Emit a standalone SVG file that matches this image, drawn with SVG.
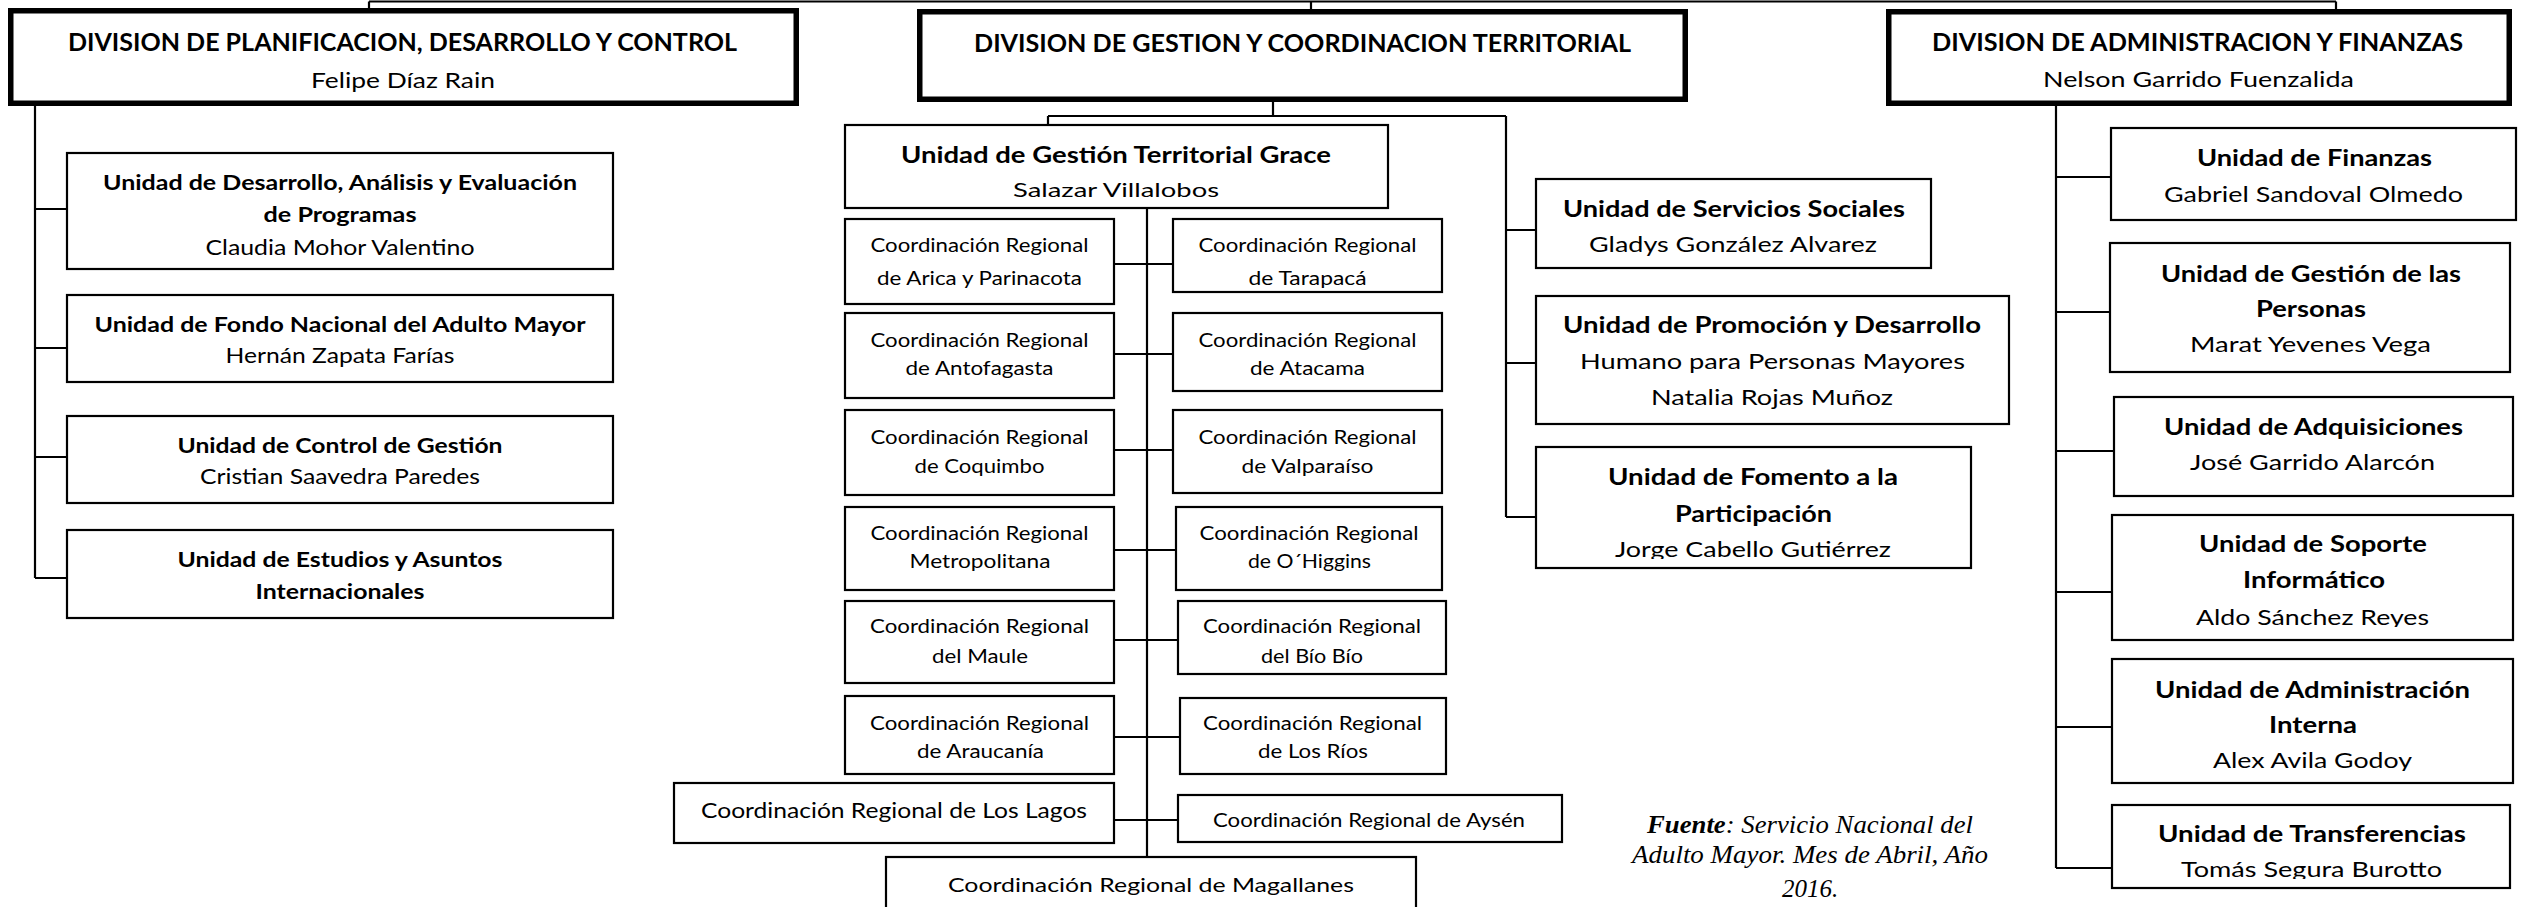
<svg xmlns="http://www.w3.org/2000/svg" width="2526" height="907" viewBox="0 0 2526 907">
  <style>
    .bg { fill: #ffffff; }
    .div { fill: #ffffff; stroke: #000; stroke-width: 5.5; }
    .box { fill: #ffffff; stroke: #000; stroke-width: 2.2; }
    .ln { fill: none; stroke: #000; stroke-width: 2.2; }
    text { font-family: Lato, "Open Sans", "Liberation Sans", sans-serif; fill: #000; text-anchor: middle; }
    .h { font-weight: bold; font-size: 24px; }
    .n { font-size: 22px; }
    .u { font-weight: bold; font-size: 21px; }
    .un { font-size: 21px; }
    .r { font-weight: bold; font-size: 22.5px; }
    .rn { font-size: 22px; }
    .c { font-size: 19.5px; }
    .src { font-family: "Liberation Serif", "Times New Roman", serif; font-style: italic; font-size: 25px; }
  </style>
  <defs>
    <clipPath id="cut-tarapaca" clipPathUnits="userSpaceOnUse"><rect x="0" y="0" width="2526" height="289"/></clipPath>
    <clipPath id="cut-salazar" clipPathUnits="userSpaceOnUse"><rect x="0" y="0" width="2526" height="199"/></clipPath>
    <clipPath id="cut-fomento" clipPathUnits="userSpaceOnUse"><rect x="0" y="0" width="2526" height="559"/></clipPath>
    <clipPath id="cut-soporte" clipPathUnits="userSpaceOnUse"><rect x="0" y="0" width="2526" height="627"/></clipPath>
    <clipPath id="cut-interna" clipPathUnits="userSpaceOnUse"><rect x="0" y="0" width="2526" height="771"/></clipPath>
    <clipPath id="cut-transf" clipPathUnits="userSpaceOnUse"><rect x="0" y="0" width="2526" height="879"/></clipPath>
    <clipPath id="cut-aysen" clipPathUnits="userSpaceOnUse"><rect x="0" y="0" width="2526" height="830"/></clipPath>
  </defs>

  <rect class="bg" x="0" y="0" width="2526" height="907"/>

  <!-- connectors -->
  <g id="connectors">
    <!-- top bar joining the three divisions -->
    <path class="ln" d="M369 1.5 H2336 M369 1.5 V9 M1311 1.5 V10 M2336 1.5 V10"/>
    <!-- division 1 spine -->
    <path class="ln" d="M35 106 V578 M35 209 H67 M35 348 H67 M35 457 H67 M35 578 H67"/>
    <!-- division 2 -->
    <path class="ln" d="M1273 102 V116 M1048 116 H1506 M1048 116 V125 M1506 116 V517 M1506 230 H1536 M1506 363 H1536 M1506 517 H1536"/>
    <!-- regional spine -->
    <path class="ln" d="M1147 208 V857 M1114 264 H1173 M1114 354 H1173 M1114 450 H1176 M1114 550 H1176 M1114 640 H1178 M1114 737 H1180 M1114 820 H1178"/>
    <!-- division 3 spine -->
    <path class="ln" d="M2056 106 V868 M2056 177 H2111 M2056 312 H2110 M2056 451 H2114 M2056 592 H2112 M2056 727 H2112 M2056 868 H2112"/>
  </g>

  <!-- Division de Planificacion -->
  <g id="div-planificacion">
    <rect class="div" x="10.75" y="10.75" width="785.5" height="92.5"/>
    <text class="h" x="402.5" y="50.5" textLength="669" lengthAdjust="spacingAndGlyphs">DIVISION DE PLANIFICACION, DESARROLLO Y CONTROL</text>
    <text class="n" x="403" y="88" textLength="184" lengthAdjust="spacingAndGlyphs">Felipe Díaz Rain</text>
  </g>
  <g id="u-desarrollo">
    <rect class="box" x="67" y="153" width="546" height="116"/>
    <text class="u" x="340" y="190" textLength="474" lengthAdjust="spacingAndGlyphs">Unidad de Desarrollo, Análisis y Evaluación</text>
    <text class="u" x="340" y="222" textLength="153" lengthAdjust="spacingAndGlyphs">de Programas</text>
    <text class="un" x="340" y="255" textLength="269" lengthAdjust="spacingAndGlyphs">Claudia Mohor Valentino</text>
  </g>
  <g id="u-fondo">
    <rect class="box" x="67" y="295" width="546" height="87"/>
    <text class="u" x="340" y="332" textLength="491" lengthAdjust="spacingAndGlyphs">Unidad de Fondo Nacional del Adulto Mayor</text>
    <text class="un" x="340" y="363" textLength="229" lengthAdjust="spacingAndGlyphs">Hernán Zapata Farías</text>
  </g>
  <g id="u-control">
    <rect class="box" x="67" y="416" width="546" height="87"/>
    <text class="u" x="340" y="453" textLength="325" lengthAdjust="spacingAndGlyphs">Unidad de Control de Gestión</text>
    <text class="un" x="340" y="484" textLength="280" lengthAdjust="spacingAndGlyphs">Cristian Saavedra Paredes</text>
  </g>
  <g id="u-estudios">
    <rect class="box" x="67" y="530" width="546" height="88"/>
    <text class="u" x="340" y="567" textLength="325" lengthAdjust="spacingAndGlyphs">Unidad de Estudios y Asuntos</text>
    <text class="u" x="340" y="599" textLength="169" lengthAdjust="spacingAndGlyphs">Internacionales</text>
  </g>

  <!-- Division de Gestion y Coordinacion Territorial -->
  <g id="div-gestion">
    <rect class="div" x="919.75" y="11.75" width="765.5" height="87.5"/>
    <text class="h" x="1302.5" y="52" textLength="657" lengthAdjust="spacingAndGlyphs">DIVISION DE GESTION Y COORDINACION TERRITORIAL</text>
  </g>
  <g id="u-territorial">
    <rect class="box" x="845" y="125" width="543" height="83"/>
    <text class="u" style="font-size:23px" x="1116" y="163" textLength="430" lengthAdjust="spacingAndGlyphs">Unidad de Gestión Territorial Grace</text>
    <text class="un" style="font-size:20px" x="1116" y="197" textLength="206" lengthAdjust="spacingAndGlyphs" clip-path="url(#cut-salazar)">Salazar Villalobos</text>
  </g>

  <g id="cr-arica">
    <rect class="box" x="845" y="219" width="269" height="85"/>
    <text class="c" x="979.5" y="252" textLength="218" lengthAdjust="spacingAndGlyphs">Coordinación Regional</text>
    <text class="c" x="979.5" y="285" textLength="205" lengthAdjust="spacingAndGlyphs">de Arica y Parinacota</text>
  </g>
  <g id="cr-tarapaca">
    <rect class="box" x="1173" y="219" width="269" height="73"/>
    <text class="c" x="1307.5" y="252" textLength="218" lengthAdjust="spacingAndGlyphs">Coordinación Regional</text>
    <text class="c" x="1307.5" y="285" textLength="118" lengthAdjust="spacingAndGlyphs" clip-path="url(#cut-tarapaca)">de Tarapacá</text>
  </g>
  <g id="cr-antofagasta">
    <rect class="box" x="845" y="313" width="269" height="85"/>
    <text class="c" x="979.5" y="347" textLength="218" lengthAdjust="spacingAndGlyphs">Coordinación Regional</text>
    <text class="c" x="979.5" y="375" textLength="148" lengthAdjust="spacingAndGlyphs">de Antofagasta</text>
  </g>
  <g id="cr-atacama">
    <rect class="box" x="1173" y="313" width="269" height="78"/>
    <text class="c" x="1307.5" y="347" textLength="218" lengthAdjust="spacingAndGlyphs">Coordinación Regional</text>
    <text class="c" x="1307.5" y="375" textLength="115" lengthAdjust="spacingAndGlyphs">de Atacama</text>
  </g>
  <g id="cr-coquimbo">
    <rect class="box" x="845" y="410" width="269" height="85"/>
    <text class="c" x="979.5" y="444" textLength="218" lengthAdjust="spacingAndGlyphs">Coordinación Regional</text>
    <text class="c" x="979.5" y="473" textLength="130" lengthAdjust="spacingAndGlyphs">de Coquimbo</text>
  </g>
  <g id="cr-valparaiso">
    <rect class="box" x="1173" y="410" width="269" height="83"/>
    <text class="c" x="1307.5" y="444" textLength="218" lengthAdjust="spacingAndGlyphs">Coordinación Regional</text>
    <text class="c" x="1307.5" y="473" textLength="132" lengthAdjust="spacingAndGlyphs">de Valparaíso</text>
  </g>
  <g id="cr-metropolitana">
    <rect class="box" x="845" y="507" width="269" height="83"/>
    <text class="c" x="979.5" y="540" textLength="218" lengthAdjust="spacingAndGlyphs">Coordinación Regional</text>
    <text class="c" x="980" y="568" textLength="141" lengthAdjust="spacingAndGlyphs">Metropolitana</text>
  </g>
  <g id="cr-ohiggins">
    <rect class="box" x="1176" y="507" width="266" height="83"/>
    <text class="c" x="1309" y="540" textLength="219" lengthAdjust="spacingAndGlyphs">Coordinación Regional</text>
    <text class="c" x="1309.5" y="568" textLength="123" lengthAdjust="spacingAndGlyphs">de O´Higgins</text>
  </g>
  <g id="cr-maule">
    <rect class="box" x="845" y="601" width="269" height="82"/>
    <text class="c" x="979.5" y="633" textLength="219" lengthAdjust="spacingAndGlyphs">Coordinación Regional</text>
    <text class="c" x="980" y="663" textLength="96" lengthAdjust="spacingAndGlyphs">del Maule</text>
  </g>
  <g id="cr-biobio">
    <rect class="box" x="1178" y="601" width="268" height="73"/>
    <text class="c" x="1312" y="633" textLength="218" lengthAdjust="spacingAndGlyphs">Coordinación Regional</text>
    <text class="c" x="1312" y="663" textLength="102" lengthAdjust="spacingAndGlyphs">del Bío Bío</text>
  </g>
  <g id="cr-araucania">
    <rect class="box" x="845" y="696" width="269" height="78"/>
    <text class="c" x="979.5" y="730" textLength="219" lengthAdjust="spacingAndGlyphs">Coordinación Regional</text>
    <text class="c" x="980.5" y="758" textLength="127" lengthAdjust="spacingAndGlyphs">de Araucanía</text>
  </g>
  <g id="cr-losrios">
    <rect class="box" x="1180" y="698" width="266" height="76"/>
    <text class="c" x="1312.5" y="730" textLength="219" lengthAdjust="spacingAndGlyphs">Coordinación Regional</text>
    <text class="c" x="1313" y="758" textLength="110" lengthAdjust="spacingAndGlyphs">de Los Ríos</text>
  </g>
  <g id="cr-loslagos">
    <rect class="box" x="674" y="783" width="440" height="60"/>
    <text class="c" style="font-size:21px" x="894" y="818" textLength="386" lengthAdjust="spacingAndGlyphs">Coordinación Regional de Los Lagos</text>
  </g>
  <g id="cr-aysen">
    <rect class="box" x="1178" y="795" width="384" height="47"/>
    <text class="c" style="font-size:19px" x="1369" y="827" textLength="312" lengthAdjust="spacingAndGlyphs" clip-path="url(#cut-aysen)">Coordinación Regional de Aysén</text>
  </g>
  <g id="cr-magallanes">
    <rect class="box" x="886" y="857" width="530" height="60"/>
    <text class="c" style="font-size:20px" x="1151" y="892" textLength="406" lengthAdjust="spacingAndGlyphs">Coordinación Regional de Magallanes</text>
  </g>

  <g id="u-servicios">
    <rect class="box" x="1536" y="179" width="395" height="89"/>
    <text class="r" x="1734" y="217" textLength="342" lengthAdjust="spacingAndGlyphs">Unidad de Servicios Sociales</text>
    <text class="rn" x="1733" y="252" textLength="288" lengthAdjust="spacingAndGlyphs">Gladys González Alvarez</text>
  </g>
  <g id="u-promocion">
    <rect class="box" x="1536" y="296" width="473" height="128"/>
    <text class="r" x="1772" y="333" textLength="418" lengthAdjust="spacingAndGlyphs">Unidad de Promoción y Desarrollo</text>
    <text class="rn" x="1772.5" y="369" textLength="385" lengthAdjust="spacingAndGlyphs">Humano para Personas Mayores</text>
    <text class="rn" x="1772" y="405" textLength="242" lengthAdjust="spacingAndGlyphs">Natalia Rojas Muñoz</text>
  </g>
  <g id="u-fomento">
    <rect class="box" x="1536" y="447" width="435" height="121"/>
    <text class="r" x="1753" y="485" textLength="290" lengthAdjust="spacingAndGlyphs">Unidad de Fomento a la</text>
    <text class="r" x="1753.5" y="522" textLength="157" lengthAdjust="spacingAndGlyphs">Participación</text>
    <text class="rn" x="1753" y="557" textLength="276" lengthAdjust="spacingAndGlyphs" clip-path="url(#cut-fomento)">Jorge Cabello Gutiérrez</text>
  </g>

  <!-- Division de Administracion y Finanzas -->
  <g id="div-administracion">
    <rect class="div" x="1888.75" y="11.75" width="620.5" height="91.5"/>
    <text class="h" x="2197.5" y="51" textLength="531" lengthAdjust="spacingAndGlyphs">DIVISION DE ADMINISTRACION Y FINANZAS</text>
    <text class="n" x="2198.5" y="87" textLength="311" lengthAdjust="spacingAndGlyphs">Nelson Garrido Fuenzalida</text>
  </g>
  <g id="u-finanzas">
    <rect class="box" x="2111" y="128" width="405" height="92"/>
    <text class="r" x="2314.5" y="166" textLength="235" lengthAdjust="spacingAndGlyphs">Unidad de Finanzas</text>
    <text class="rn" x="2313.5" y="202" textLength="299" lengthAdjust="spacingAndGlyphs">Gabriel Sandoval Olmedo</text>
  </g>
  <g id="u-personas">
    <rect class="box" x="2110" y="243" width="400" height="129"/>
    <text class="r" x="2311" y="282" textLength="300" lengthAdjust="spacingAndGlyphs">Unidad de Gestión de las</text>
    <text class="r" x="2311" y="317" textLength="110" lengthAdjust="spacingAndGlyphs">Personas</text>
    <text class="rn" x="2310.5" y="352" textLength="241" lengthAdjust="spacingAndGlyphs">Marat Yevenes Vega</text>
  </g>
  <g id="u-adquisiciones">
    <rect class="box" x="2114" y="397" width="399" height="99"/>
    <text class="r" x="2313.5" y="435" textLength="299" lengthAdjust="spacingAndGlyphs">Unidad de Adquisiciones</text>
    <text class="rn" x="2312.5" y="470" textLength="245" lengthAdjust="spacingAndGlyphs">José Garrido Alarcón</text>
  </g>
  <g id="u-soporte">
    <rect class="box" x="2112" y="515" width="401" height="125"/>
    <text class="r" x="2313" y="552" textLength="228" lengthAdjust="spacingAndGlyphs">Unidad de Soporte</text>
    <text class="r" x="2314" y="588" textLength="142" lengthAdjust="spacingAndGlyphs">Informático</text>
    <text class="rn" x="2312.5" y="625" textLength="233" lengthAdjust="spacingAndGlyphs" clip-path="url(#cut-soporte)">Aldo Sánchez Reyes</text>
  </g>
  <g id="u-interna">
    <rect class="box" x="2112" y="659" width="401" height="124"/>
    <text class="r" x="2312.5" y="698" textLength="315" lengthAdjust="spacingAndGlyphs">Unidad de Administración</text>
    <text class="r" x="2313" y="733" textLength="88" lengthAdjust="spacingAndGlyphs">Interna</text>
    <text class="rn" x="2312.5" y="768" textLength="199" lengthAdjust="spacingAndGlyphs" clip-path="url(#cut-interna)">Alex Avila Godoy</text>
  </g>
  <g id="u-transferencias">
    <rect class="box" x="2112" y="805" width="398" height="83"/>
    <text class="r" x="2312" y="842" textLength="308" lengthAdjust="spacingAndGlyphs">Unidad de Transferencias</text>
    <text class="rn" x="2311.5" y="877" textLength="261" lengthAdjust="spacingAndGlyphs" clip-path="url(#cut-transf)">Tomás Segura Burotto</text>
  </g>

  <!-- source note -->
  <g id="source-note">
    <text class="src" x="1810" y="833" textLength="326" lengthAdjust="spacingAndGlyphs"><tspan font-weight="bold">Fuente</tspan>: Servicio Nacional del</text>
    <text class="src" x="1810" y="863" textLength="356" lengthAdjust="spacingAndGlyphs">Adulto Mayor. Mes de Abril, Año</text>
    <text class="src" x="1810" y="897">2016.</text>
  </g>
</svg>
